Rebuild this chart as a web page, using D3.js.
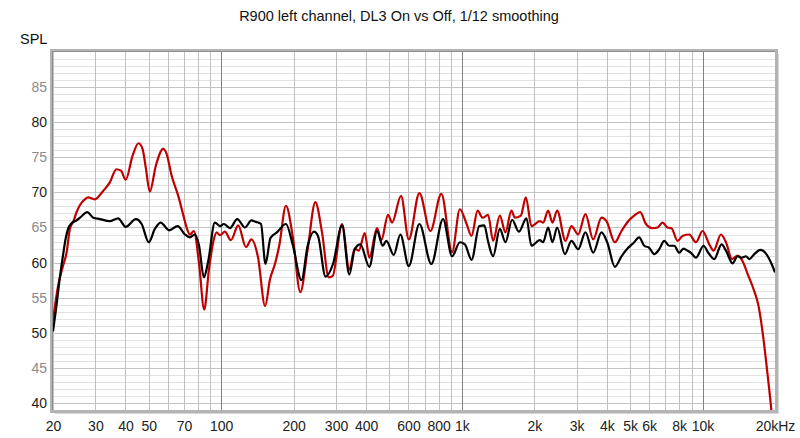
<!DOCTYPE html>
<html>
<head>
<meta charset="utf-8">
<script src="https://cdn.jsdelivr.net/npm/d3@7"></script>
<style>
  html, body { margin: 0; padding: 0; background: #fff; }
  svg { display: block; font-family: "Liberation Sans", Arial, sans-serif; }
</style>
</head>
<body>
<svg id="chart" width="800" height="438"></svg>
<script>
const title = "R900 left channel, DL3 On vs Off, 1/12 smoothing";
const yAxisTitle = "SPL";

const xTickValues = [20,30,40,50,70,100,200,300,400,600,800,1000,2000,3000,4000,5000,6000,8000,10000,20000];
const xTickLabels = ["20","30","40","50","70","100","200","300","400","600","800","1k","2k","3k","4k","5k","6k","8k","10k","20kHz"];
const yTickValues = [40,45,50,55,60,65,70,75,80,85];
const yTickLabels = ["40","45","50","55","60","65","70","75","80","85"];

// DL3 Off (black): [frequency Hz, SPL dB]
const offFreq = [20.0,20.7,21.3,22.0,22.6,23.1,23.9,25.0,26.3,27.7,29.4,31.3,34.4,37.3,40.1,44.2,46.7,50.0,53.0,56.0,60.8,65.9,70.7,74.1,77.7,80.8,84.7,88.3,94.1,98.8,102.6,108.7,116.6,125.5,133.5,139.4,146.3,152.7,160.2,170.4,185.8,198.1,215.6,228.7,242.9,252.4,271.3,291.4,317.7,340.6,358.7,378.4,412.5,444.1,469.0,485.4,521.0,555.0,601.6,665.9,746.7,835.2,910.6,981,1029,1097,1181,1239,1285,1348,1438,1517,1617,1724,1855,1945,2109,2176,2283,2378,2488,2679,2853,3042,3262,3512,3802,4016,4323,4604,4909,5200,5454,5723,6003,6298,6607,6930,7270,7626,8000,8337,8661,8948,9387,10096,10561,11184,11995,12512,13330,13981,14530,15152,15635,16404,17373,18225,19248,20000];
const offSPL  = [50.2,54.0,57.6,61.0,63.5,64.8,65.6,66.0,66.6,67.2,66.4,66.2,65.9,66.3,65.1,66.2,65.5,62.9,64.8,65.7,64.6,65.2,64.0,63.6,64.0,62.5,57.9,60.2,65.7,65.2,65.5,64.9,66.2,65.0,66.0,65.8,65.5,59.8,63.5,64.3,65.5,62.6,57.5,62.4,64.4,63.8,58.0,59.8,65.3,58.3,61.9,62.6,59.4,64.5,62.4,63.1,61.1,64.0,59.5,65.5,59.8,66.2,60.9,62.9,62.6,60.4,65.2,65.3,63.0,60.9,64.8,62.9,66.1,64.4,66.3,62.4,63.2,62.9,65.0,62.9,65.0,61.2,63.1,61.9,64.3,61.4,64.3,62.9,59.4,60.9,62.1,62.9,63.6,62.4,62.1,61.2,61.9,63.1,62.4,62.4,61.4,62.0,61.7,61.4,60.7,62.4,61.4,60.5,62.6,61.7,59.9,60.9,60.7,60.9,60.5,61.2,61.8,61.4,60.0,58.6];

// DL3 On (red): [frequency Hz, SPL dB]
const onFreq = [20.0,21.0,22.0,22.8,23.5,24.4,25.0,25.9,27.1,28.0,29.8,32.3,34.4,36.7,38.3,40.1,42.8,45.3,47.1,48.6,50.5,53.5,57.4,59.3,62.2,66.3,69.3,71.8,74.1,77.0,80.8,85.0,88.9,92.6,95.7,98.8,103.6,109.7,117.7,126.7,133.5,142.1,152.2,159.4,167.2,174.2,185.8,198.1,213.1,228.7,246.0,262.3,279.7,290.6,317.7,340.6,358.7,372.7,394.8,412.5,444.1,462.8,493.3,512.6,558.7,601.6,665.9,739.6,821.7,910.6,981,1046,1097,1162,1219,1285,1348,1438,1517,1606,1660,1758,1844,1945,2109,2176,2283,2378,2488,2694,2853,3042,3262,3512,3802,3989,4323,4604,4909,5200,5507,5818,6196,6500,6819,7153,7432,7870,8258,8804,9387,10000,10663,11110,11928,12512,13254,13981,14668,15342,16294,17090,17930,18525,19248,19489];
const onSPL  = [51.7,56.7,59.5,61.5,64.8,66.0,67.1,68.2,69.0,69.3,69.0,70.2,71.4,73.3,73.1,71.8,75.2,77.0,76.2,73.5,70.1,73.8,76.2,75.5,72.4,69.5,67.0,65.0,64.0,64.5,60.0,53.3,59.0,62.9,64.3,63.9,64.4,63.2,65.3,62.2,63.3,60.8,53.8,57.6,59.8,62.4,68.1,63.8,55.8,61.9,68.6,64.3,57.9,58.1,65.5,59.0,62.0,61.7,64.2,60.7,64.9,63.2,66.8,65.7,69.5,63.3,69.9,64.5,69.8,61.5,67.6,65.5,63.8,67.4,66.4,66.8,63.1,66.7,64.3,67.4,66.4,66.7,69.3,65.2,65.9,65.7,67.4,65.7,67.4,63.1,65.2,64.0,66.9,63.3,66.4,65.9,62.9,64.5,65.9,66.7,67.2,65.5,64.9,65.0,65.7,65.0,64.9,63.1,63.8,64.0,62.9,64.5,62.6,61.7,64.0,62.9,60.5,61.0,60.2,58.5,56.2,53.8,49.0,44.8,39.5,37.5];

const svg = d3.select("#chart");
const W = 800, H = 438;
const plot = { left: 53, right: 775, top: 52, bottom: 410 };

const x = d3.scaleLog().domain([20, 20000]).range([plot.left, plot.right]);
const y = d3.scaleLinear().domain([39, 90]).range([plot.bottom, plot.top]);

svg.append("rect").attr("width", W).attr("height", H).attr("fill", "#fff");

// Title
svg.append("text").attr("x", 399).attr("y", 21).attr("text-anchor", "middle")
  .attr("font-size", 14.5).attr("fill", "#111").text(title);
svg.append("text").attr("x", 20).attr("y", 44)
  .attr("font-size", 14.5).attr("fill", "#111").text(yAxisTitle);

// Plot background + shadow frame
svg.append("rect").attr("x", plot.left + 2).attr("y", plot.top + 2)
  .attr("width", plot.right - plot.left + 2).attr("height", plot.bottom - plot.top + 2)
  .attr("fill", "#d8d8d8");
svg.append("rect").attr("x", plot.left).attr("y", plot.top)
  .attr("width", plot.right - plot.left).attr("height", plot.bottom - plot.top)
  .attr("fill", "#fff");

const grid = svg.append("g");
// horizontal grid lines (1 dB minor, 5 dB major)
d3.range(40, 90).forEach(v => {
  grid.append("line")
    .attr("x1", plot.left).attr("x2", plot.right)
    .attr("y1", Math.round(y(v)) + 0.5).attr("y2", Math.round(y(v)) + 0.5)
    .attr("stroke", v % 5 === 0 ? "#c4c4c4" : "#e2e2e2").attr("stroke-width", 1);
});
// vertical grid lines
const vGrid = [];
[10, 100, 1000, 10000].forEach(d => { for (let k = 1; k <= 9; k++) { const f = d * k; if (f >= 20 && f <= 20000) vGrid.push(f); } });
vGrid.forEach(f => {
  const decade = (f === 100 || f === 1000 || f === 10000);
  grid.append("line")
    .attr("x1", Math.round(x(f)) + 0.5).attr("x2", Math.round(x(f)) + 0.5)
    .attr("y1", plot.top).attr("y2", plot.bottom)
    .attr("stroke", decade ? "#808080" : "#c0c0c0").attr("stroke-width", 1);
});

// Frame
svg.append("rect").attr("x", plot.left - 1.5).attr("y", plot.top - 1.5)
  .attr("width", plot.right - plot.left + 3).attr("height", plot.bottom - plot.top + 3)
  .attr("fill", "none").attr("stroke", "#b4b4b4").attr("stroke-width", 3);
svg.append("path")
  .attr("d", `M${plot.left - 0.5},${plot.bottom}V${plot.top - 0.5}H${plot.right}`)
  .attr("fill", "none").attr("stroke", "#8c8c8c").attr("stroke-width", 1);

// Clip
svg.append("clipPath").attr("id", "clip").append("rect")
  .attr("x", plot.left).attr("y", plot.top)
  .attr("width", plot.right - plot.left).attr("height", plot.bottom - plot.top);

const line = d3.line().x(d => x(d[0])).y(d => y(d[1])).curve(d3.curveMonotoneX);
const onData = onFreq.map((f, i) => [f, onSPL[i]]);
const offData = offFreq.map((f, i) => [f, offSPL[i]]);

const curves = svg.append("g").attr("clip-path", "url(#clip)");
curves.append("path").datum(onData).attr("d", line)
  .attr("fill", "none").attr("stroke", "#c00000").attr("stroke-width", 2.2).attr("stroke-linejoin", "round");
curves.append("path").datum(offData).attr("d", line)
  .attr("fill", "none").attr("stroke", "#000").attr("stroke-width", 2.2).attr("stroke-linejoin", "round");

// Axes
const xAxis = d3.axisBottom(x).tickValues(xTickValues)
  .tickFormat((d, i) => xTickLabels[i]).tickSize(0).tickPadding(0);
const gx = svg.append("g").attr("transform", `translate(0, 431)`).call(xAxis);
gx.select(".domain").remove();
gx.selectAll("text").attr("dy", 0).attr("font-size", 14).attr("fill", "#222")
  .attr("font-family", '"Liberation Sans", Arial, sans-serif');

const yAxis = d3.axisLeft(y).tickValues(yTickValues)
  .tickFormat((d, i) => yTickLabels[i]).tickSize(0).tickPadding(0);
const gy = svg.append("g").attr("transform", `translate(47, 0)`).call(yAxis);
gy.select(".domain").remove();
gy.selectAll("text").attr("font-size", 14)
  .attr("fill", d => d % 10 === 0 ? "#222" : "#8a8a8a")
  .attr("font-family", '"Liberation Sans", Arial, sans-serif');
</script>
</body>
</html>
